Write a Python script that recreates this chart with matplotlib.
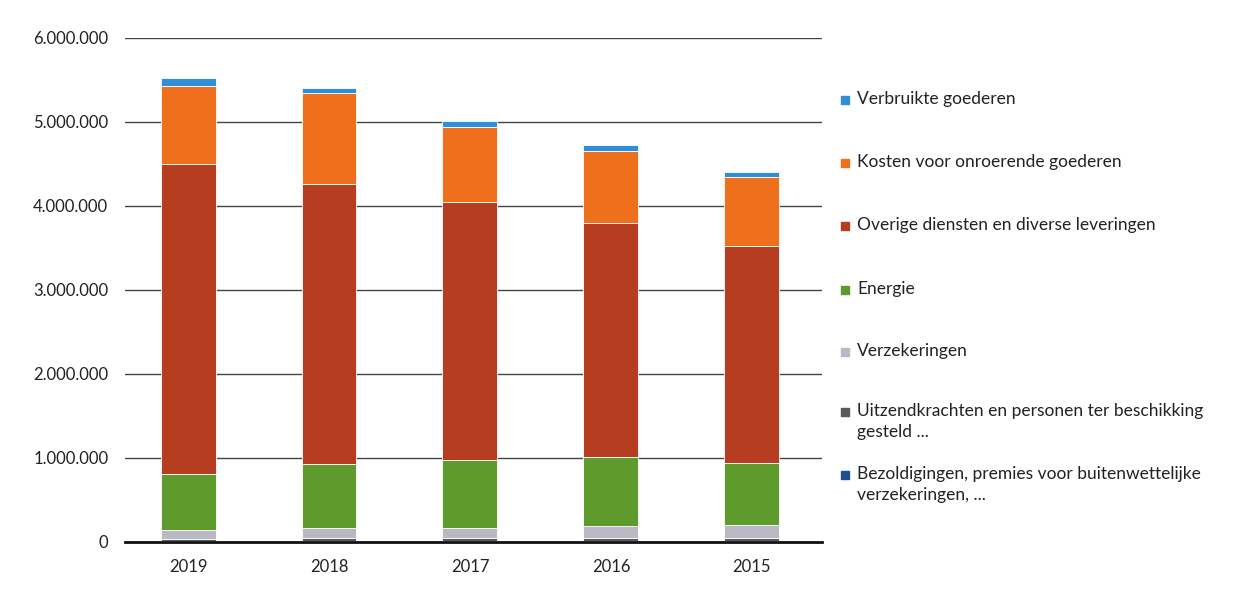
import matplotlib
matplotlib.use("Agg")
import matplotlib.pyplot as plt
from matplotlib.patches import Rectangle
import numpy as np

plt.rcParams['font.family'] = ['Lato', 'DejaVu Sans']

years = ["2019", "2018", "2017", "2016", "2015"]
series_names = [
    "Bezoldigingen, premies voor buitenwettelijke\nverzekeringen, ...",
    "Uitzendkrachten en personen ter beschikking\ngesteld ...",
    "Verzekeringen",
    "Energie",
    "Overige diensten en diverse leveringen",
    "Kosten voor onroerende goederen",
    "Verbruikte goederen",
]
bezoldigingen = [15000, 15000, 15000, 15000, 15000]
uitzendkrachten = [25000, 30000, 30000, 35000, 35000]
verzekeringen = [100000, 125000, 125000, 140000, 150000]
energie = [670000, 760000, 810000, 820000, 740000]
overige = [3690000, 3330000, 3070000, 2790000, 2580000]
kosten = [930000, 1090000, 890000, 850000, 830000]
verbruikte = [90000, 50000, 70000, 80000, 50000]
yticks = [0, 1000000, 2000000, 3000000, 4000000, 5000000, 6000000]
ytick_labels = ["0", "1.000.000", "2.000.000", "3.000.000", "4.000.000", "5.000.000", "6.000.000"]

series = [bezoldigingen, uitzendkrachten, verzekeringen, energie, overige, kosten, verbruikte]
colors = ["#1f4f8f", "#595959", "#b9b9c6", "#5f9a2c", "#b63d1f", "#ee6f1c", "#2e8fd6"]

fig = plt.figure(figsize=(12.48, 5.91), dpi=100)
ax = fig.add_axes([125/1248, 1-542/591, (822-125)/1248, (542-38)/591])

x = np.arange(len(years))
bottom = np.zeros(len(years))
for vals, col in zip(series, colors):
    ax.bar(x, vals, width=0.39, bottom=bottom, color=col, edgecolor="white", linewidth=0.6, zorder=3)
    bottom += np.array(vals)

ax.set_xlim(-0.447, 4.497)
ax.set_ylim(0, 6000000)
ax.set_yticks(yticks)
ax.set_yticklabels(ytick_labels, fontsize=12, color="#222222")
ax.set_xticks(x)
ax.set_xticklabels(years, fontsize=12, color="#222222")
ax.tick_params(axis='y', length=0, pad=12)
ax.tick_params(axis='x', length=0, pad=12)
ax.yaxis.grid(True, color="#444444", linewidth=1.0, zorder=0)
for sp in ["top", "right", "left"]:
    ax.spines[sp].set_visible(False)
ax.spines["bottom"].set_color("#111111")
ax.spines["bottom"].set_linewidth(2)
ax.spines["bottom"].set_zorder(4)

# legend (manual, equal spacing of first lines)
legend_y = [100, 163, 226, 290, 352, 412, 475]
legend_order = list(range(len(series_names)))[::-1]
for yy, idx in zip(legend_y, legend_order):
    fig.patches.append(Rectangle((841/1248, 1-(yy+4)/591), 8/1248, 8/591,
                                 transform=fig.transFigure, color=colors[idx], figure=fig))
    fig.text(857/1248, 1-(yy-9)/591, series_names[idx], fontsize=12.5, va="top", ha="left",
             color="#222222", linespacing=1.35)

fig.savefig("out.png", dpi=100, facecolor="white")
